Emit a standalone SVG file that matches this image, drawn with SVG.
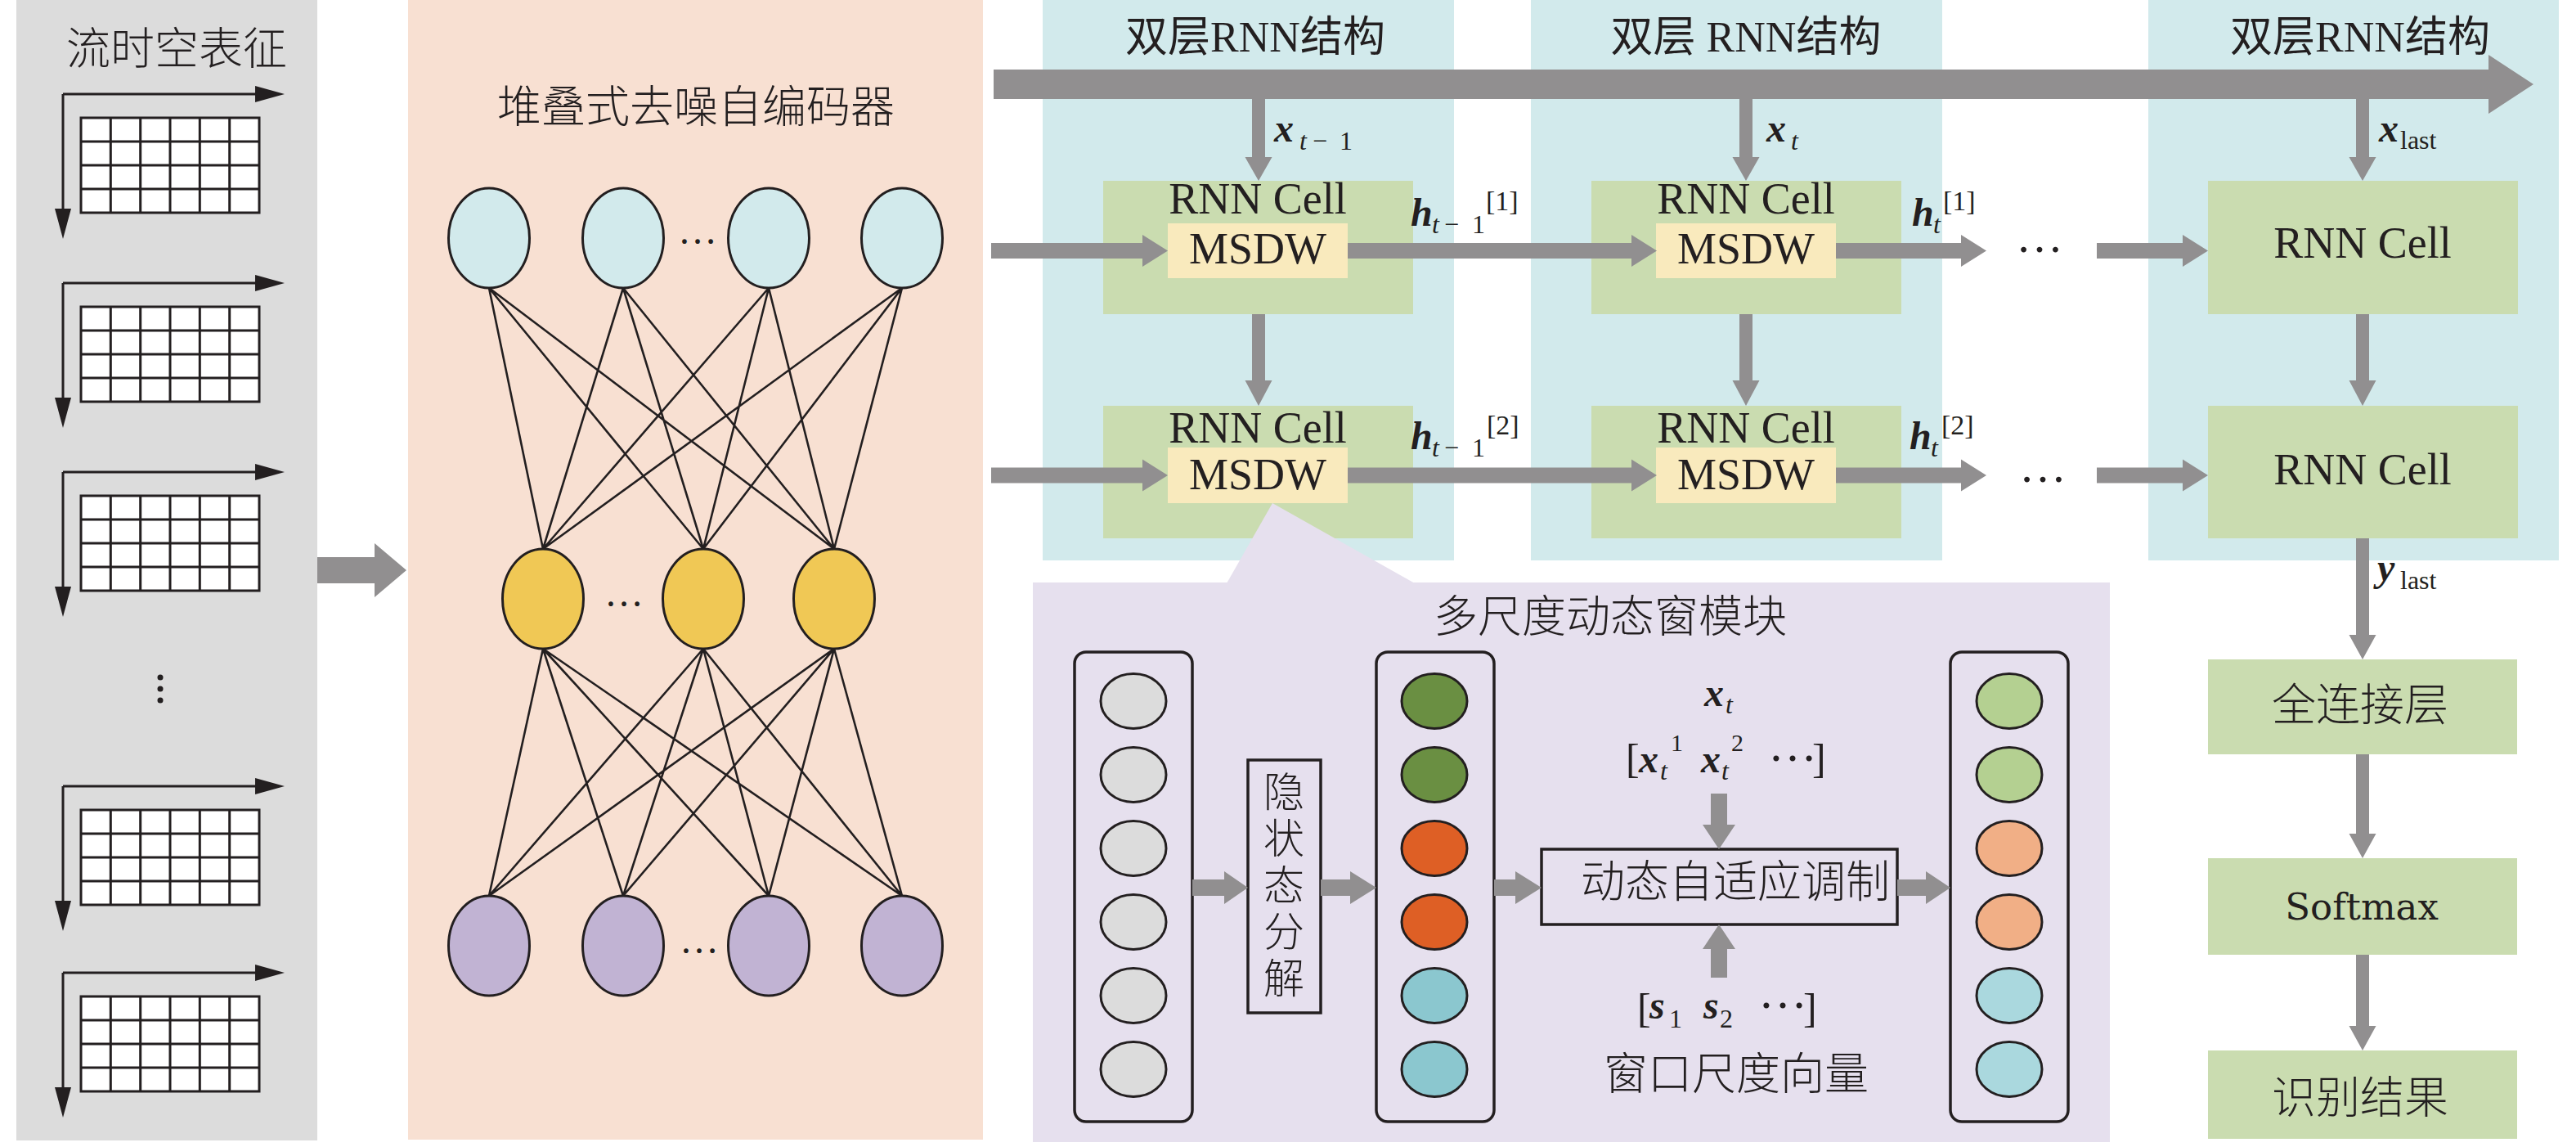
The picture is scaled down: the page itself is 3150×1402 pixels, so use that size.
<svg xmlns="http://www.w3.org/2000/svg" xmlns:xlink="http://www.w3.org/1999/xlink" width="3150" height="1402" viewBox="0 0 3150 1402">
<style>
.bg{fill:#ffffff}
.cjk{font-family:"Noto Sans CJK SC","Liberation Serif",sans-serif;font-weight:300;fill:#231f20;text-anchor:middle}
.lat{font-family:"Liberation Serif","Noto Sans CJK SC",serif;fill:#231f20}
.mid{text-anchor:middle}
.bi{font-family:"Liberation Serif",serif;font-weight:bold;font-style:italic;fill:#231f20}
.it{font-family:"Liberation Serif",serif;font-style:italic;fill:#231f20}
.rm{font-family:"Liberation Serif",serif;fill:#231f20}
.arr{fill:#918f90}
.cell{fill:#cadcb0}
.msdw{fill:#f9eabd}
.blue{fill:#d2eaec}
.nn{stroke:#231f20;stroke-width:3}
.ln{stroke:#231f20;stroke-width:2.6;fill:none}
.col{fill:none;stroke:#231f20;stroke-width:3.5}
.gl{stroke:#231f20;stroke-width:3;fill:none}
.blk{fill:#231f20}
.vert{writing-mode:vertical-rl;text-anchor:start;letter-spacing:7px}
</style>
<defs>
<g id="gridUnit">
<line class="gl" x1="77" y1="115" x2="314" y2="115"/>
<polygon class="blk" points="312,105 348,115 312,125"/>
<line class="gl" x1="77" y1="115" x2="77" y2="257"/>
<polygon class="blk" points="67,255 87,255 77,292"/>
<rect x="99" y="144" width="218" height="116" fill="#ffffff" stroke="#231f20" stroke-width="3"/>
<path class="gl" d="M135.3,144V260M171.7,144V260M208,144V260M244.3,144V260M280.7,144V260M99,173H317M99,202H317M99,231H317"/>
</g>
</defs>
<rect class="bg" x="0" y="0" width="3150" height="1402"/>

<!-- Panel: flow spatio-temporal representation -->
<g id="flow-panel">
<rect x="20" y="0" width="368" height="1394" fill="#dcdcdc"/>
<text class="cjk" x="216" y="79" font-size="54">流时空表征</text>
<g id="frame1"><use xlink:href="#gridUnit"/></g>
<g id="frame2"><use xlink:href="#gridUnit" transform="translate(0,231)"/></g>
<g id="frame3"><use xlink:href="#gridUnit" transform="translate(0,462)"/></g>
<g id="vdots"><circle class="blk" cx="196" cy="828" r="3.5"/><circle class="blk" cx="196" cy="842" r="3.5"/><circle class="blk" cx="196" cy="856" r="3.5"/></g>
<g id="frame4"><use xlink:href="#gridUnit" transform="translate(0,846)"/></g>
<g id="frame5"><use xlink:href="#gridUnit" transform="translate(0,1074)"/></g>
</g>

<!-- Panel: SDAE -->
<g id="sdae-panel">
<rect x="499" y="0" width="703" height="1393" fill="#f8e0d2"/>
<text class="cjk" x="851" y="150" font-size="54">堆叠式去噪自编码器</text>
<g id="sdae-links">
<path class="ln" d="M598,352L664,671M598,352L860,671M598,352L1020,671M762,352L664,671M762,352L860,671M762,352L1020,671M940,352L664,671M940,352L860,671M940,352L1020,671M1103,352L664,671M1103,352L860,671M1103,352L1020,671"/>
<path class="ln" d="M664,793L598,1095M664,793L762,1095M664,793L940,1095M664,793L1103,1095M860,793L598,1095M860,793L762,1095M860,793L940,1095M860,793L1103,1095M1020,793L598,1095M1020,793L762,1095M1020,793L940,1095M1020,793L1103,1095"/>
</g>
<g id="sdae-input">
<ellipse class="nn" cx="598" cy="291" rx="49.5" ry="61" fill="#d2eaec"/>
<ellipse class="nn" cx="762" cy="291" rx="49.5" ry="61" fill="#d2eaec"/>
<ellipse class="nn" cx="940" cy="291" rx="49.5" ry="61" fill="#d2eaec"/>
<ellipse class="nn" cx="1103" cy="291" rx="49.5" ry="61" fill="#d2eaec"/>
<text class="rm mid" x="853" y="298" font-size="48">…</text>
</g>
<g id="sdae-hidden">
<ellipse class="nn" cx="664" cy="732" rx="49.5" ry="61" fill="#f0c855"/>
<ellipse class="nn" cx="860" cy="732" rx="49.5" ry="61" fill="#f0c855"/>
<ellipse class="nn" cx="1020" cy="732" rx="49.5" ry="61" fill="#f0c855"/>
<text class="rm mid" x="763" y="741" font-size="48">…</text>
</g>
<g id="sdae-output">
<ellipse class="nn" cx="598" cy="1156" rx="49.5" ry="61" fill="#c1b3d3"/>
<ellipse class="nn" cx="762" cy="1156" rx="49.5" ry="61" fill="#c1b3d3"/>
<ellipse class="nn" cx="940" cy="1156" rx="49.5" ry="61" fill="#c1b3d3"/>
<ellipse class="nn" cx="1103" cy="1156" rx="49.5" ry="61" fill="#c1b3d3"/>
<text class="rm mid" x="855" y="1165" font-size="48">…</text>
</g>
</g>

<!-- RNN panels -->
<g id="rnn-panel-1">
<rect class="blue" x="1275" y="0" width="503" height="685"/>
<text class="lat mid" x="1535" y="63" font-size="52">双层RNN结构</text>
</g>
<g id="rnn-panel-2">
<rect class="blue" x="1872" y="0" width="503" height="685"/>
<text class="lat mid" x="2135" y="63" font-size="52">双层 RNN结构</text>
</g>
<g id="rnn-panel-3">
<rect class="blue" x="2627" y="0" width="502" height="685"/>
<text class="lat mid" x="2886" y="63" font-size="52">双层RNN结构</text>
</g>

<g id="cell-1-1">
<rect class="cell" x="1349" y="221" width="379" height="163"/>
<text class="rm mid" x="1538" y="261" font-size="54">RNN Cell</text>
<rect class="msdw" x="1428" y="273" width="220" height="67"/>
<text class="rm mid" x="1538" y="322" font-size="54">MSDW</text>
</g>
<g id="cell-2-1">
<rect class="cell" x="1349" y="496" width="379" height="162"/>
<text class="rm mid" x="1538" y="541" font-size="54">RNN Cell</text>
<rect class="msdw" x="1428" y="547" width="220" height="68"/>
<text class="rm mid" x="1538" y="598" font-size="54">MSDW</text>
</g>
<g id="cell-1-2">
<rect class="cell" x="1946" y="221" width="379" height="163"/>
<text class="rm mid" x="2135" y="261" font-size="54">RNN Cell</text>
<rect class="msdw" x="2025" y="273" width="220" height="67"/>
<text class="rm mid" x="2135" y="322" font-size="54">MSDW</text>
</g>
<g id="cell-2-2">
<rect class="cell" x="1946" y="496" width="379" height="162"/>
<text class="rm mid" x="2135" y="541" font-size="54">RNN Cell</text>
<rect class="msdw" x="2025" y="547" width="220" height="68"/>
<text class="rm mid" x="2135" y="598" font-size="54">MSDW</text>
</g>
<g id="cell-1-3">
<rect class="cell" x="2700" y="221" width="379" height="163"/>
<text class="rm mid" x="2889" y="315" font-size="54">RNN Cell</text>
</g>
<g id="cell-2-3">
<rect class="cell" x="2700" y="496" width="379" height="162"/>
<text class="rm mid" x="2889" y="592" font-size="54">RNN Cell</text>
</g>

<g id="fc-layer">
<rect class="cell" x="2700" y="806" width="378" height="116"/>
<text class="cjk" x="2886" y="881" font-size="54">全连接层</text>
</g>
<g id="softmax">
<rect class="cell" x="2700" y="1049" width="378" height="118"/>
<text x="2888" y="1124" font-size="45" font-family="'DejaVu Serif',serif" fill="#231f20" text-anchor="middle">Softmax</text>
</g>
<g id="result">
<rect class="cell" x="2700" y="1284" width="378" height="108"/>
<text class="cjk" x="2886" y="1361" font-size="54">识别结果</text>
</g>

<!-- MSDW module -->
<g id="msdw-module">
<polygon points="1556,615 1500,713 1730,713" fill="#e6e0ee"/>
<rect x="1263" y="712" width="1317" height="684" fill="#e6e0ee"/>
<text class="cjk" x="1969" y="773" font-size="54">多尺度动态窗模块</text>
</g>
<g id="hidden-state">
<rect class="col" x="1314" y="797" width="144" height="574" rx="14"/>
<ellipse class="nn" cx="1386" cy="857" rx="40" ry="33.5" fill="#dcdcdc"/>
<ellipse class="nn" cx="1386" cy="947" rx="40" ry="33.5" fill="#dcdcdc"/>
<ellipse class="nn" cx="1386" cy="1037" rx="40" ry="33.5" fill="#dcdcdc"/>
<ellipse class="nn" cx="1386" cy="1127" rx="40" ry="33.5" fill="#dcdcdc"/>
<ellipse class="nn" cx="1386" cy="1217" rx="40" ry="33.5" fill="#dcdcdc"/>
<ellipse class="nn" cx="1386" cy="1307" rx="40" ry="33.5" fill="#dcdcdc"/>
</g>
<g id="decompose">
<rect class="col" x="1526" y="929" width="89" height="309" stroke-width="3"/>
<text class="cjk vert" x="1570" y="942" font-size="50">隐状态分解</text>
</g>
<g id="decomposed-state">
<rect class="col" x="1683" y="797" width="144" height="574" rx="14"/>
<ellipse class="nn" cx="1754" cy="857" rx="40" ry="33.5" fill="#6a8f42"/>
<ellipse class="nn" cx="1754" cy="947" rx="40" ry="33.5" fill="#6a8f42"/>
<ellipse class="nn" cx="1754" cy="1037" rx="40" ry="33.5" fill="#de5f25"/>
<ellipse class="nn" cx="1754" cy="1127" rx="40" ry="33.5" fill="#de5f25"/>
<ellipse class="nn" cx="1754" cy="1217" rx="40" ry="33.5" fill="#8bc7cf"/>
<ellipse class="nn" cx="1754" cy="1307" rx="40" ry="33.5" fill="#8bc7cf"/>
</g>
<g id="modulation">
<rect class="col" x="1885" y="1038" width="435" height="92" stroke-width="3"/>
<text class="cjk" x="2122" y="1097" font-size="54">动态自适应调制</text>
</g>
<g id="input-label">
<text class="bi" x="2084" y="863" font-size="48">x</text>
<text class="it" x="2110" y="872" font-size="32">t</text>
<text class="rm" x="1988" y="944" font-size="50">[</text>
<text class="bi" x="2004" y="944" font-size="48">x</text>
<text class="it" x="2030" y="953" font-size="32">t</text>
<text class="rm" x="2043" y="918" font-size="30">1</text>
<text class="bi" x="2080" y="944" font-size="48">x</text>
<text class="it" x="2105" y="953" font-size="32">t</text>
<text class="rm" x="2117" y="918" font-size="30">2</text>
<text class="rm" x="2162" y="930" font-size="60">…</text>
<text class="rm" x="2216" y="944" font-size="50">]</text>
</g>
<g id="scale-label">
<text class="rm" x="2002" y="1249" font-size="50">[</text>
<text class="bi" x="2017" y="1245" font-size="48">s</text>
<text class="rm" x="2041" y="1256" font-size="32">1</text>
<text class="bi" x="2083" y="1245" font-size="48">s</text>
<text class="rm" x="2103" y="1256" font-size="32">2</text>
<text class="rm" x="2150" y="1232" font-size="60">…</text>
<text class="rm" x="2205" y="1249" font-size="50">]</text>
<text class="cjk" x="2123" y="1332" font-size="54">窗口尺度向量</text>
</g>
<g id="modulated-state">
<rect class="col" x="2385" y="797" width="144" height="574" rx="14"/>
<ellipse class="nn" cx="2457" cy="857" rx="40" ry="33.5" fill="#b4d091"/>
<ellipse class="nn" cx="2457" cy="947" rx="40" ry="33.5" fill="#b4d091"/>
<ellipse class="nn" cx="2457" cy="1037" rx="40" ry="33.5" fill="#f1af86"/>
<ellipse class="nn" cx="2457" cy="1127" rx="40" ry="33.5" fill="#f1af86"/>
<ellipse class="nn" cx="2457" cy="1217" rx="40" ry="33.5" fill="#aad8de"/>
<ellipse class="nn" cx="2457" cy="1307" rx="40" ry="33.5" fill="#aad8de"/>
</g>

<!-- Connectors -->
<g id="connectors">
<polygon class="arr" points="388,681 458,681 458,664 497,697 458,730 458,713 388,713"/>
<polygon class="arr" points="1215,85 3043,85 3043,67 3098,103 3043,139 3043,121 1215,121"/>
<polygon class="arr" points="1531,121 1547,121 1547,192 1555.5,192 1539,221 1522.5,192 1531,192"/>
<polygon class="arr" points="2127,121 2143,121 2143,192 2151.5,192 2135,221 2118.5,192 2127,192"/>
<polygon class="arr" points="2881,121 2897,121 2897,192 2905.5,192 2889,221 2872.5,192 2881,192"/>
<polygon class="arr" points="1531,384 1547,384 1547,465 1555.5,465 1539,496 1522.5,465 1531,465"/>
<polygon class="arr" points="2127,384 2143,384 2143,465 2151.5,465 2135,496 2118.5,465 2127,465"/>
<polygon class="arr" points="2881,384 2897,384 2897,465 2905.5,465 2889,496 2872.5,465 2881,465"/>
<polygon class="arr" points="2881,658 2897,658 2897,776 2905.5,776 2889,806 2872.5,776 2881,776"/>
<polygon class="arr" points="2881,922 2897,922 2897,1019 2905.5,1019 2889,1049 2872.5,1019 2881,1019"/>
<polygon class="arr" points="2881,1167 2897,1167 2897,1254 2905.5,1254 2889,1284 2872.5,1254 2881,1254"/>
<polygon class="arr" points="1212,297 1397,297 1397,287 1428,306.5 1397,326 1397,316 1212,316"/>
<polygon class="arr" points="1648,297 1995,297 1995,287 2026,306.5 1995,326 1995,316 1648,316"/>
<polygon class="arr" points="2245,297 2398,297 2398,287 2429,306.5 2398,326 2398,316 2245,316"/>
<polygon class="arr" points="2564,297 2669,297 2669,287 2700,306.5 2669,326 2669,316 2564,316"/>
<polygon class="arr" points="1212,571.5 1397,571.5 1397,561.5 1428,581 1397,600.5 1397,590.5 1212,590.5"/>
<polygon class="arr" points="1648,571.5 1995,571.5 1995,561.5 2026,581 1995,600.5 1995,590.5 1648,590.5"/>
<polygon class="arr" points="2245,571.5 2398,571.5 2398,561.5 2429,581 2398,600.5 2398,590.5 2245,590.5"/>
<polygon class="arr" points="2564,571.5 2669,571.5 2669,561.5 2700,581 2669,600.5 2669,590.5 2564,590.5"/>
<text class="rm mid" x="2494" y="308" font-size="58">…</text>
<text class="rm mid" x="2498" y="589" font-size="58">…</text>
<polygon class="arr" points="1458,1075 1497,1075 1497,1065 1526,1085 1497,1105 1497,1095 1458,1095"/>
<polygon class="arr" points="1615,1075 1651,1075 1651,1065 1683,1085 1651,1105 1651,1095 1615,1095"/>
<polygon class="arr" points="1827,1075 1853,1075 1853,1065 1885,1085 1853,1105 1853,1095 1827,1095"/>
<polygon class="arr" points="2320,1075 2355,1075 2355,1065 2385,1085 2355,1105 2355,1095 2320,1095"/>
<polygon class="arr" points="2092,970 2112,970 2112,1008 2122,1008 2102,1038 2082,1008 2092,1008"/>
<polygon class="arr" points="2092,1195 2112,1195 2112,1160 2122,1160 2102,1130 2082,1160 2092,1160"/>
</g>

<!-- Connector labels -->
<g id="labels">
<text class="bi" x="1558" y="173" font-size="48">x</text>
<text class="it" x="1589" y="183" font-size="32">t</text>
<text class="rm" x="1605" y="183" font-size="32">−</text>
<text class="rm" x="1638" y="183" font-size="32">1</text>
<text class="bi" x="2160" y="173" font-size="48">x</text>
<text class="it" x="2190" y="183" font-size="32">t</text>
<text class="bi" x="2909" y="173" font-size="48">x</text>
<text class="rm" x="2935" y="182" font-size="32">last</text>
<text class="bi" x="1725" y="276" font-size="48">h</text>
<text class="it" x="1751" y="285" font-size="32">t</text>
<text class="rm" x="1766" y="285" font-size="32">−</text>
<text class="rm" x="1800" y="285" font-size="32">1</text>
<text class="rm" x="1817" y="257" font-size="34">[1]</text>
<text class="bi" x="2338" y="276" font-size="48">h</text>
<text class="it" x="2364" y="285" font-size="32">t</text>
<text class="rm" x="2376" y="257" font-size="34">[1]</text>
<text class="bi" x="1725" y="549" font-size="48">h</text>
<text class="it" x="1751" y="558" font-size="32">t</text>
<text class="rm" x="1766" y="558" font-size="32">−</text>
<text class="rm" x="1800" y="558" font-size="32">1</text>
<text class="rm" x="1818" y="531" font-size="34">[2]</text>
<text class="bi" x="2335" y="549" font-size="48">h</text>
<text class="it" x="2361" y="558" font-size="32">t</text>
<text class="rm" x="2374" y="531" font-size="34">[2]</text>
<text class="bi" x="2907" y="710" font-size="48">y</text>
<text class="rm" x="2935" y="720" font-size="32">last</text>
</g>
</svg>
